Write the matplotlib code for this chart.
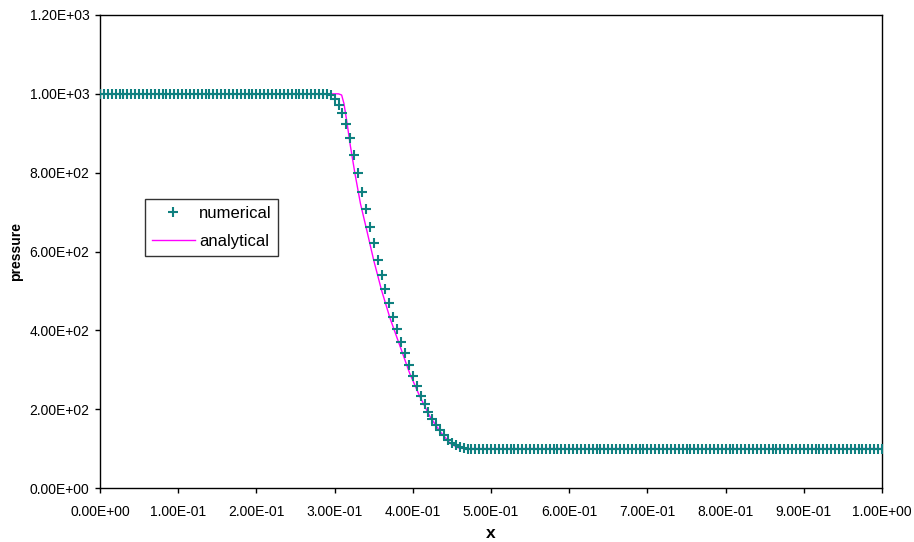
import matplotlib.pyplot as plt
import numpy as np
from matplotlib.ticker import FuncFormatter, MultipleLocator

plt.rcParams.update({"font.family": ["Liberation Sans", "DejaVu Sans"], "font.size": 10})

# numerical solution, one value per cell (dx = 0.005)
x_num = np.linspace(0.0, 1.0, 201)
p_num = [
    1000, 1000, 1000, 1000, 1000, 1000, 1000, 1000, 1000, 1000,
    1000, 1000, 1000, 1000, 1000, 1000, 1000, 1000, 1000, 1000,
    1000, 1000, 1000, 1000, 1000, 1000, 1000, 1000, 1000, 1000,
    1000, 1000, 1000, 1000, 1000, 1000, 1000, 1000, 1000, 1000,
    1000, 1000, 1000, 1000, 1000, 1000, 1000, 1000, 1000, 1000,
    1000, 1000, 1000, 1000, 1000, 1000, 1000, 1000, 1000, 996,
    986, 972, 951, 923, 887, 845, 798, 752, 707, 663,
    621, 578, 540, 504, 469, 435, 403, 371, 342, 312,
    285, 258, 234, 212, 193, 176, 161, 147, 134, 123,
    115, 108, 103, 101, 100, 100, 100, 100, 100, 100,
    100, 100, 100, 100, 100, 100, 100, 100, 100, 100,
    100, 100, 100, 100, 100, 100, 100, 100, 100, 100,
    100, 100, 100, 100, 100, 100, 100, 100, 100, 100,
    100, 100, 100, 100, 100, 100, 100, 100, 100, 100,
    100, 100, 100, 100, 100, 100, 100, 100, 100, 100,
    100, 100, 100, 100, 100, 100, 100, 100, 100, 100,
    100, 100, 100, 100, 100, 100, 100, 100, 100, 100,
    100, 100, 100, 100, 100, 100, 100, 100, 100, 100,
    100, 100, 100, 100, 100, 100, 100, 100, 100, 100,
    100, 100, 100, 100, 100, 100, 100, 100, 100, 100,
    100,
]

# analytical rarefaction
x_ana = [0.0, 0.305, 0.309, 0.312, 0.316, 0.320, 0.326, 0.333, 0.341, 0.350,
         0.360, 0.371, 0.384, 0.396, 0.409, 0.422, 0.435, 0.448, 0.458, 0.465, 1.0]
p_ana = [1000, 1000, 997, 975, 925, 870, 798, 722, 655, 578,
         502, 430, 358, 291, 232, 181, 143, 113, 102, 100, 100]

fig = plt.figure(figsize=(9.14, 5.42), dpi=100)
ax = fig.add_axes([100/914, 1-488/542, 782/914, 473/542])

ax.plot(x_num, p_num, ls='none', marker='+', ms=6.5, mew=1.5, color='#0f8080', label='numerical', zorder=3)
ax.plot(x_ana, p_ana, color='#ff00ff', lw=1.0, label='analytical', zorder=2)

ax.set_xlim(0, 1)
ax.set_ylim(0, 1200)
ax.xaxis.set_major_locator(MultipleLocator(0.1))
ax.yaxis.set_major_locator(MultipleLocator(200))
fmt = FuncFormatter(lambda v, pos: f'{v:.2E}')
ax.xaxis.set_major_formatter(fmt)
ax.yaxis.set_major_formatter(fmt)
ax.tick_params(direction='out', length=3.5, width=1, labelsize=10)
ax.tick_params(axis='x', pad=9)
ax.tick_params(axis='y', pad=4)
for s in ax.spines.values():
    s.set_linewidth(1.0)

ax.set_xlabel('x', fontweight='bold', fontsize=12.5, labelpad=4.5)
ax.set_ylabel('pressure', fontweight='bold', fontsize=10, labelpad=4.5)

leg = ax.legend(loc='upper left', bbox_to_anchor=(45/782, (488-199)/473), borderaxespad=0,
                fancybox=False, edgecolor='black', fontsize=12, handlelength=2.6,
                borderpad=0.4, labelspacing=0.8, handletextpad=0.25)
leg.get_frame().set_linewidth(1.0)

plt.savefig('out.png', dpi=100)
